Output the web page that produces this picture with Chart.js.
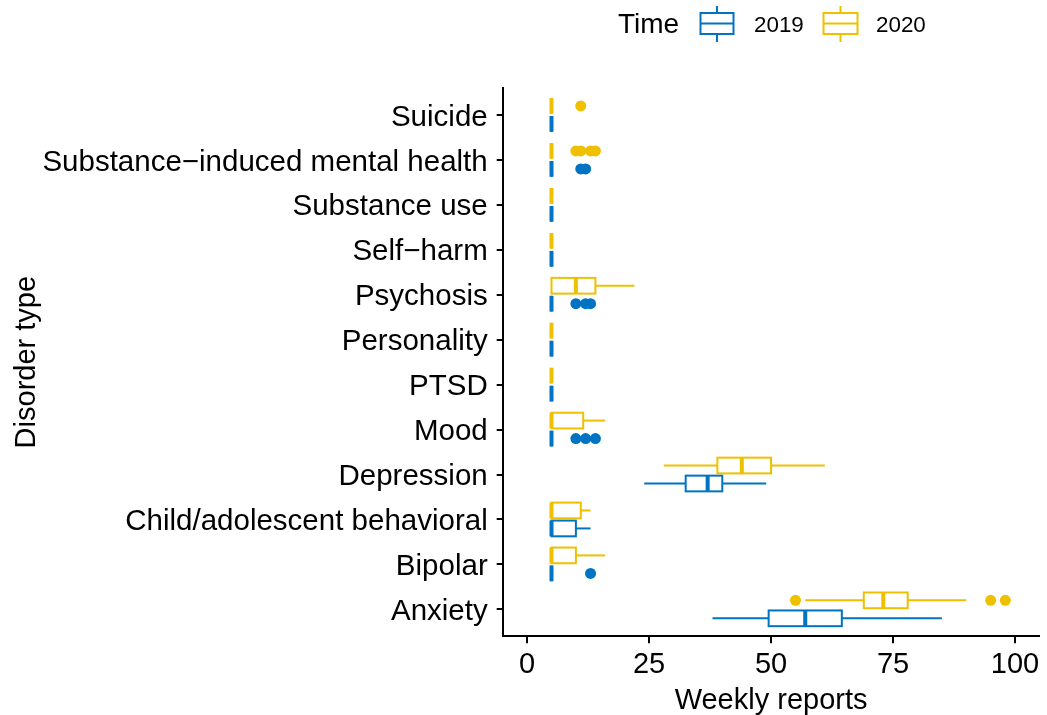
<!DOCTYPE html>
<html>
<head>
<meta charset="utf-8">
<script src="https://cdn.jsdelivr.net/npm/chart.js@4.4.1/dist/chart.umd.min.js"></script>
<style>
html, body { margin: 0; padding: 0; background: #ffffff; }
#wrap { width: 1047px; height: 715px; position: relative; }
</style>
</head>
<body>
<div id="wrap"><canvas id="c" width="1047" height="715"></canvas></div>
<script>
// ---------------- data (bottom to top) ----------------
const categories = ['Anxiety', 'Bipolar', 'Child/adolescent behavioral', 'Depression', 'Mood', 'PTSD',
  'Personality', 'Psychosis', 'Self\u2212harm', 'Substance use', 'Substance\u2212induced mental health', 'Suicide'];
const seriesNames = ['2019', '2020'];
const seriesColors = ['#0073C2', '#EFC000'];
const xTicks = [0, 25, 50, 75, 100];

// 2019
const low2019  = [38,   5, 5,  24,   5, 5, 5, 5, 5, 5, 5, 5];
const q1_2019  = [49.5, 5, 5,  32.5, 5, 5, 5, 5, 5, 5, 5, 5];
const med2019  = [57,   5, 5,  37,   5, 5, 5, 5, 5, 5, 5, 5];
const q3_2019  = [64.5, 5, 10, 40,   5, 5, 5, 5, 5, 5, 5, 5];
const high2019 = [85,   5, 13, 49,   5, 5, 5, 5, 5, 5, 5, 5];
const out2019  = [[], [13], [], [], [10, 12, 14], [], [], [10, 12, 13], [], [], [11, 12], []];

// 2020
const low2020  = [57, 5,  5,  28, 5,    5, 5, 5,  5, 5, 5, 5];
const q1_2020  = [69, 5,  5,  39, 5,    5, 5, 5,  5, 5, 5, 5];
const med2020  = [73, 5,  5,  44, 5,    5, 5, 10, 5, 5, 5, 5];
const q3_2020  = [78, 10, 11, 50, 11.5, 5, 5, 14, 5, 5, 5, 5];
const high2020 = [90, 16, 13, 61, 16,   5, 5, 22, 5, 5, 5, 5];
const out2020  = [[55, 95, 98], [], [], [], [], [], [], [], [], [], [10, 11, 13, 14], [11]];

// ---------------- styling / layout ----------------
const FONT = '"Liberation Sans", Arial, Helvetica, sans-serif';
const DODGE = 0.2;   // category units
const BOXH = 0.35;   // category units
const stats = [
  { low: low2019, q1: q1_2019, med: med2019, q3: q3_2019, high: high2019, out: out2019, off: -DODGE },
  { low: low2020, q1: q1_2020, med: med2020, q3: q3_2020, high: high2020, out: out2020, off: DODGE }
];

function outlierPoints(s) {
  const pts = [];
  s.out.forEach((vals, i) => vals.forEach(v => pts.push({ x: v, y: i + s.off })));
  return pts;
}

const boxPlugin = {
  id: 'boxes',
  beforeDatasetsDraw(chart) {
    const { ctx, scales: { x, y } } = chart;
    const px = v => x.getPixelForValue(v);
    stats.forEach((s, k) => {
      ctx.save();
      ctx.strokeStyle = seriesColors[k];
      ctx.lineJoin = 'miter';
      ctx.lineCap = 'butt';
      s.q1.forEach((_, i) => {
        const yc = y.getPixelForValue(i + s.off);
        const yt = y.getPixelForValue(i + s.off + BOXH / 2);
        const yb = y.getPixelForValue(i + s.off - BOXH / 2);
        ctx.lineWidth = 2;
        ctx.beginPath();
        ctx.moveTo(px(s.low[i]), yc); ctx.lineTo(px(s.q1[i]), yc);
        ctx.moveTo(px(s.q3[i]), yc); ctx.lineTo(px(s.high[i]), yc);
        ctx.stroke();
        ctx.fillStyle = '#ffffff';
        ctx.fillRect(px(s.q1[i]), yt, px(s.q3[i]) - px(s.q1[i]), yb - yt);
        ctx.strokeRect(px(s.q1[i]), yt, px(s.q3[i]) - px(s.q1[i]), yb - yt);
        ctx.lineWidth = 4;
        ctx.beginPath();
        ctx.moveTo(px(s.med[i]), yt); ctx.lineTo(px(s.med[i]), yb);
        ctx.stroke();
      });
      ctx.restore();
    });
  }
};

const legendPlugin = {
  id: 'topLegend',
  afterDraw(chart) {
    const ctx = chart.ctx;
    ctx.save();
    ctx.fillStyle = '#000000';
    ctx.textBaseline = 'middle';
    ctx.textAlign = 'left';
    ctx.font = '28px ' + FONT;
    ctx.fillText('Time', 618, 25.5);
    const keys = [{ x0: 700.5, x1: 733.5, tx: 754 }, { x0: 823.5, x1: 857.5, tx: 876 }];
    keys.forEach((kk, k) => {
      ctx.strokeStyle = seriesColors[k];
      ctx.lineWidth = 2;
      const cx = (kk.x0 + kk.x1) / 2;
      ctx.beginPath();
      ctx.moveTo(cx, 6); ctx.lineTo(cx, 13);
      ctx.moveTo(cx, 34); ctx.lineTo(cx, 42);
      ctx.moveTo(kk.x0, 23.5); ctx.lineTo(kk.x1, 23.5);
      ctx.stroke();
      ctx.strokeRect(kk.x0, 13, kk.x1 - kk.x0, 21);
      ctx.fillStyle = '#000000';
      ctx.font = '22.4px ' + FONT;
      ctx.fillText(seriesNames[k], kk.tx, 26);
    });
    ctx.restore();
  }
};

const axisGrid = (len) => ({
  display: true, drawOnChartArea: false, drawTicks: true, tickLength: len,
  color: '#000000', lineWidth: 2
});

new Chart(document.getElementById('c').getContext('2d'), {
  type: 'scatter',
  data: {
    datasets: stats.map((s, k) => ({
      label: seriesNames[k],
      data: outlierPoints(s),
      backgroundColor: seriesColors[k],
      borderWidth: 0,
      pointRadius: 5.5,
      pointHoverRadius: 5.5
    }))
  },
  options: {
    responsive: false,
    animation: false,
    devicePixelRatio: 1,
    events: [],
    layout: { padding: { left: 0, top: 88, right: 5.3, bottom: 0 } },
    plugins: { legend: { display: false }, tooltip: { enabled: false } },
    scales: {
      x: {
        type: 'linear', min: -5, max: 105,
        afterBuildTicks: a => { a.ticks = xTicks.map(v => ({ value: v })); },
        afterFit: s => { s.height = 78.7; },
        grid: axisGrid(7),
        border: { display: true, color: '#000000', width: 2 },
        ticks: { color: '#000000', font: { family: FONT, size: 29, lineHeight: 1 }, padding: 7.5,
                 maxRotation: 0, autoSkip: false },
        title: { display: true, text: 'Weekly reports', color: '#000000',
                 font: { family: FONT, size: 29, lineHeight: 1 }, padding: { top: 0, bottom: 0 } }
      },
      y: {
        type: 'linear', min: -0.6, max: 11.6,
        afterBuildTicks: a => { a.ticks = categories.map((_, i) => ({ value: i })); },
        afterFit: s => { s.width = 502.7; },
        grid: axisGrid(6),
        border: { display: true, color: '#000000', width: 2 },
        ticks: { color: '#000000', font: { family: FONT, size: 29.5, lineHeight: 1 }, padding: 9,
                 labelOffset: 2.5, autoSkip: false, callback: v => categories[v] },
        title: { display: true, text: 'Disorder type', color: '#000000',
                 font: { family: FONT, size: 29, lineHeight: 1 }, padding: { top: 12, bottom: 0 } }
      }
    }
  },
  plugins: [boxPlugin, legendPlugin]
});
</script>
</body>
</html>
